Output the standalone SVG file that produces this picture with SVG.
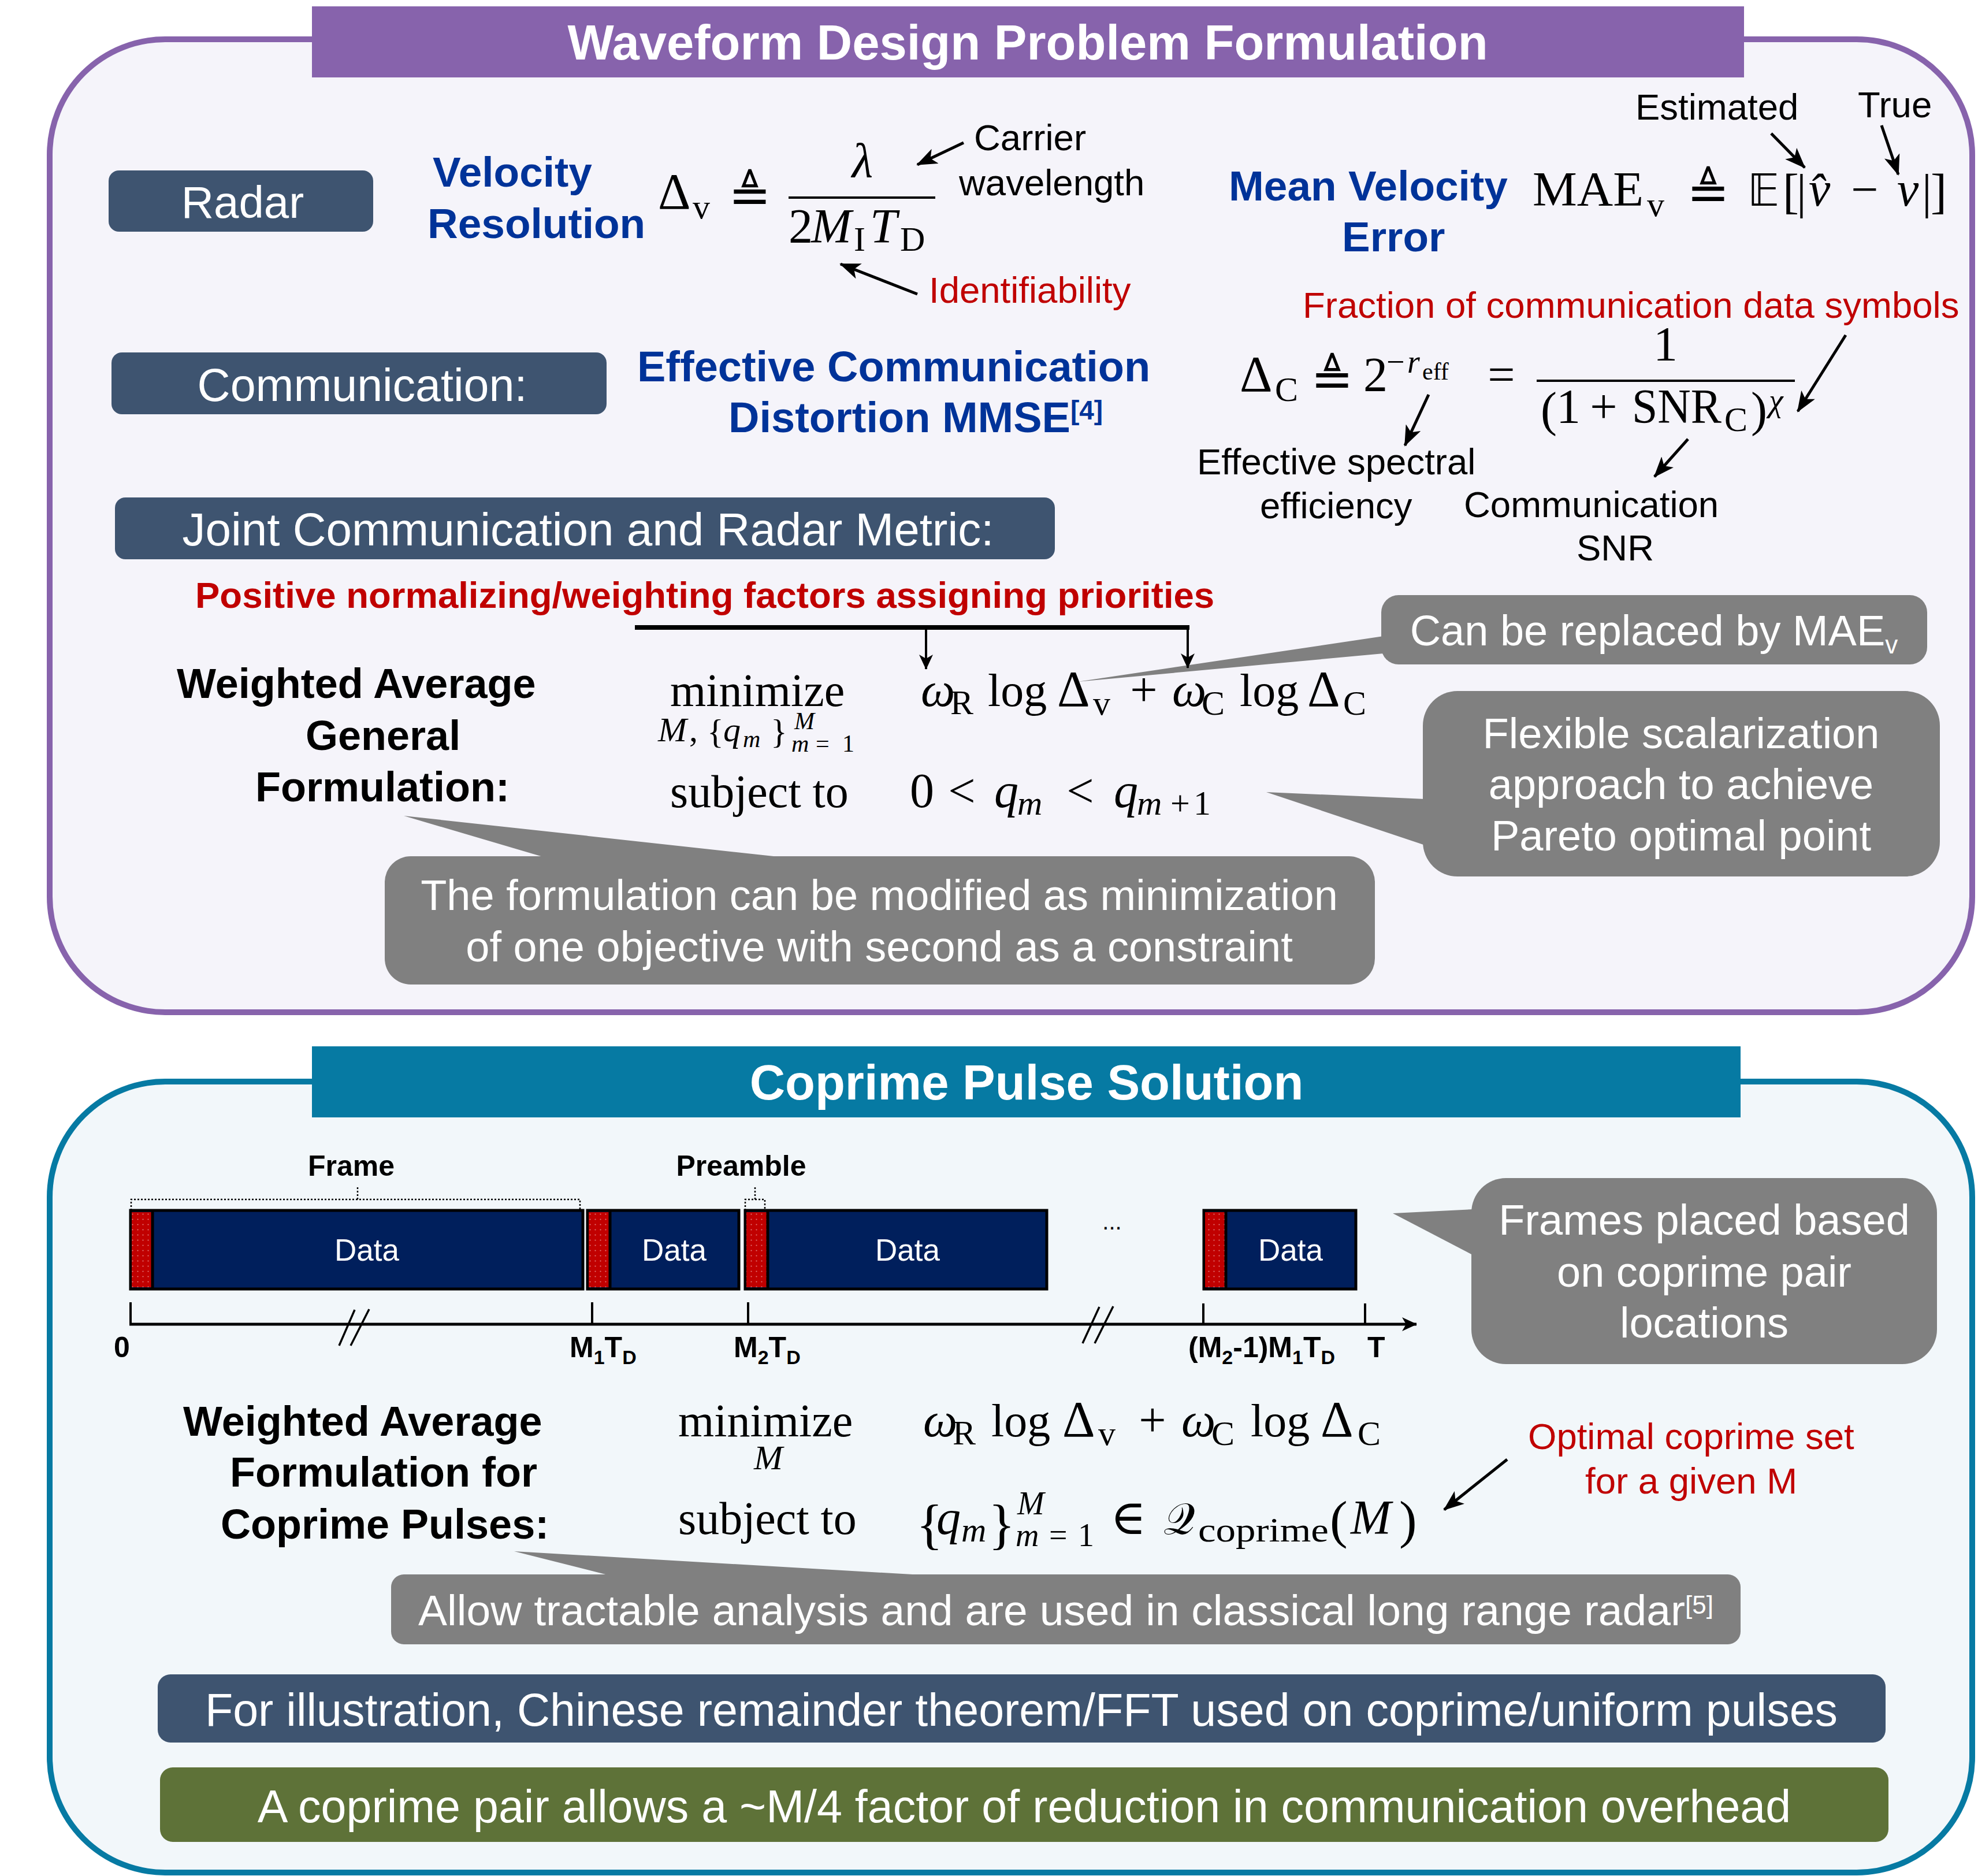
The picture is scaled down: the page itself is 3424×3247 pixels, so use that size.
<svg xmlns="http://www.w3.org/2000/svg" width="3424" height="3247" viewBox="0 0 3424 3247">
<defs>
<style>
.sans{font-family:"Liberation Sans",Arial,sans-serif}
.ttl{font-family:"Liberation Sans",Arial,sans-serif;font-weight:bold;font-size:85px;fill:#fff;text-anchor:middle}
.lbl{font-family:"Liberation Sans",Arial,sans-serif;font-size:79px;fill:#fff;text-anchor:middle}
.blue{font-family:"Liberation Sans",Arial,sans-serif;font-weight:bold;font-size:73px;fill:#003399}
.ann{font-family:"Liberation Sans",Arial,sans-serif;font-size:63.5px;fill:#000}
.red{fill:#C00000}
.co{font-family:"Liberation Sans",Arial,sans-serif;font-size:74px;fill:#fff;text-anchor:middle}
.wa{font-family:"Liberation Sans",Arial,sans-serif;font-weight:bold;font-size:72px;fill:#000}
.ax{font-family:"Liberation Sans",Arial,sans-serif;font-weight:bold;font-size:50px;fill:#000}
.dt{font-family:"Liberation Sans",Arial,sans-serif;font-size:53px;fill:#fff;text-anchor:middle}
.m{font-family:"Liberation Serif","DejaVu Serif",serif;font-size:84px;fill:#000}
.w{font-size:80px}
.i{font-style:italic}
.s{font-size:60px}
.s2{font-size:56px}
.ss{font-size:42px}
.D{font-size:88px}
.eq{font-family:"DejaVu Sans",sans-serif;font-size:88px}
.sym{font-family:"DejaVu Sans","DejaVu Serif",sans-serif;font-size:76px}
.slate{fill:#3E5470}
.gray{fill:#808080}
.arr{stroke:#000;stroke-width:5;fill:none;marker-end:url(#ah)}
.dot{stroke:#000;stroke-width:2.5;fill:none;stroke-dasharray:3 3}
.blk{stroke:#000;stroke-width:5}
</style>
<marker id="ah" markerUnits="userSpaceOnUse" markerWidth="36" markerHeight="28" viewBox="0 0 36 28" refX="34" refY="14" orient="auto"><path d="M0,0 L36,14 L0,28 L9,14 z" fill="#000"/></marker>
<marker id="ahs" markerUnits="userSpaceOnUse" markerWidth="26" markerHeight="24" viewBox="0 0 26 24" refX="25" refY="12" orient="auto"><path d="M0,0 L26,12 L0,24 L7,12 z" fill="#000"/></marker>
<pattern id="pre" patternUnits="userSpaceOnUse" width="9" height="9"><rect width="9" height="9" fill="#C00000"/><circle cx="4.5" cy="4.5" r="1.1" fill="#E27A7A"/></pattern>
</defs>

<g id="panel-top">
<rect x="86" y="68" width="3328" height="1684" rx="200" fill="#F5F4FA" stroke="#8763AC" stroke-width="10"/>
<rect x="540" y="11" width="2479" height="123" fill="#8763AC"/>
<text class="ttl" x="1779" y="103">Waveform Design Problem Formulation</text>
</g>

<g id="panel-bottom">
<rect x="86" y="1872" width="3328" height="1369" rx="200" fill="#F2F7FA" stroke="#067AA3" stroke-width="10"/>
<rect x="540" y="1811" width="2473" height="123" fill="#067AA3"/>
<text class="ttl" x="1777" y="1903">Coprime Pulse Solution</text>
</g>

<g id="radar-box">
<rect class="slate" x="188" y="295" width="458" height="106" rx="18"/>
<text class="lbl" x="420" y="377" style="font-size:78px">Radar</text>
</g>
<g id="comm-box">
<rect class="slate" x="193" y="610" width="857" height="107" rx="18"/>
<text class="lbl" x="627" y="694">Communication:</text>
</g>
<g id="joint-box">
<rect class="slate" x="199" y="861" width="1627" height="107" rx="18"/>
<text class="lbl" x="1018" y="944" style="font-size:80px">Joint Communication and Radar Metric:</text>
</g>

<g id="velocity-label">
<text class="blue" x="749" y="323">Velocity</text>
<text class="blue" x="740" y="412">Resolution</text>
</g>
<g id="velocity-formula">
<text class="m"><tspan class="D" x="1139" y="361">Δ</tspan><tspan class="s" x="1199" y="378">v</tspan><tspan class="eq" x="1298" y="368" text-anchor="middle">≜</tspan><tspan class="i" x="1493" y="306" text-anchor="middle">λ</tspan><tspan x="1365" y="420">2</tspan><tspan class="i" x="1404" y="420">M</tspan><tspan class="s" x="1478" y="434">I</tspan><tspan class="i" x="1506" y="420">T</tspan><tspan class="s" x="1558" y="434">D</tspan></text>
<line x1="1365" y1="342" x2="1619" y2="342" stroke="#000" stroke-width="4"/>
</g>
<g id="carrier-label">
<text class="ann" x="1686" y="260">Carrier</text>
<text class="ann" x="1660" y="338">wavelength</text>
</g>
<g id="ident-label"><text class="ann red" x="1608" y="524">Identifiability</text></g>

<g id="mae-label">
<text class="blue" x="2127" y="347">Mean Velocity</text>
<text class="blue" x="2323" y="435">Error</text>
</g>
<g id="mae-formula">
<text class="m"><tspan x="2653" y="356" textLength="192" lengthAdjust="spacingAndGlyphs">MAE</tspan><tspan class="s" x="2851" y="374">v</tspan><tspan class="eq" x="2957" y="363" text-anchor="middle">≜</tspan><tspan class="sym" x="3025" y="356">𝔼</tspan><tspan x="3086" y="360">[</tspan><tspan x="3110" y="360">|</tspan><tspan class="i" x="3131" y="356">v̂</tspan><tspan x="3228" y="356" text-anchor="middle">−</tspan><tspan class="i" x="3284" y="356">v</tspan><tspan x="3327" y="360">|</tspan><tspan x="3342" y="360">]</tspan></text>
</g>
<g id="est-label"><text class="ann" x="2831" y="207">Estimated</text></g>
<g id="true-label"><text class="ann" x="3216" y="203">True</text></g>

<g id="comm-label">
<text class="blue" x="1103" y="660" style="font-size:74px">Effective Communication</text>
<text class="blue" x="1261" y="748" style="font-size:74px">Distortion MMSE<tspan style="font-size:46px" dy="-22">[4]</tspan></text>
</g>
<g id="frac-label"><text class="ann red" x="2255" y="550">Fraction of communication data symbols</text></g>
<g id="dc-formula">
<text class="m"><tspan class="D" x="2146" y="677">Δ</tspan><tspan class="s" x="2207" y="694">C</tspan><tspan class="eq" x="2306" y="686" text-anchor="middle">≜</tspan><tspan x="2360" y="677">2</tspan><tspan class="s2" x="2400" y="645">−</tspan><tspan class="s2 i" x="2436" y="645">r</tspan><tspan class="ss" x="2462" y="657">eff</tspan><tspan x="2599" y="677" text-anchor="middle">=</tspan><tspan x="2883" y="624" text-anchor="middle">1</tspan><tspan x="2667" y="737">(</tspan><tspan x="2694" y="732">1</tspan><tspan x="2776" y="732" text-anchor="middle">+</tspan><tspan x="2825" y="732" textLength="155" lengthAdjust="spacingAndGlyphs">SNR</tspan><tspan class="s" x="2985" y="746">C</tspan><tspan x="3031" y="737">)</tspan><tspan class="s2 i" x="3062" y="712">χ</tspan></text>
<line x1="2660" y1="659" x2="3107" y2="659" stroke="#000" stroke-width="4"/>
</g>
<g id="eff-label">
<text class="ann" x="2072" y="821">Effective spectral</text>
<text class="ann" x="2181" y="897">efficiency</text>
</g>
<g id="snr-label">
<text class="ann" x="2534" y="895">Communication</text>
<text class="ann" x="2729" y="970">SNR</text>
</g>

<g id="weights-label"><text class="ann red" x="338" y="1052" style="font-weight:bold">Positive normalizing/weighting factors assigning priorities</text></g>

<g id="wa-general">
<text class="wa" x="306" y="1208">Weighted Average</text>
<text class="wa" x="529" y="1298">General</text>
<text class="wa" x="442" y="1387">Formulation:</text>
</g>
<g id="general-problem">
<text class="m"><tspan class="w" x="1160" y="1222">minimize</tspan><tspan class="s i" x="1139" y="1283">M</tspan><tspan class="s" x="1193" y="1283">,</tspan><tspan class="s" x="1224" y="1286">{</tspan><tspan class="s i" x="1252" y="1283">q</tspan><tspan class="ss i" x="1286" y="1293">m</tspan><tspan class="s" x="1334" y="1286">}</tspan><tspan class="ss i" x="1375" y="1262">M</tspan><tspan class="ss i" x="1370" y="1301">m</tspan><tspan class="ss" x="1412" y="1301">=</tspan><tspan class="ss" x="1458" y="1301">1</tspan></text>
<text class="m"><tspan class="i" x="1594" y="1222">ω</tspan><tspan class="s" x="1645" y="1236">R</tspan><tspan class="w" x="1710" y="1222">log</tspan><tspan class="D" x="1830" y="1222">Δ</tspan><tspan class="s" x="1892" y="1237">v</tspan><tspan x="1980" y="1222" text-anchor="middle">+</tspan><tspan class="i" x="2029" y="1222">ω</tspan><tspan class="s" x="2080" y="1237">C</tspan><tspan class="w" x="2146" y="1222">log</tspan><tspan class="D" x="2263" y="1222">Δ</tspan><tspan class="s" x="2325" y="1237">C</tspan></text>
<text class="m"><tspan class="w" x="1160" y="1397">subject to</tspan><tspan x="1575" y="1397">0</tspan><tspan x="1665" y="1397" text-anchor="middle">&lt;</tspan><tspan class="i" x="1721" y="1397">q</tspan><tspan class="s i" x="1761" y="1410">m</tspan><tspan x="1870" y="1397" text-anchor="middle">&lt;</tspan><tspan class="i" x="1928" y="1397">q</tspan><tspan class="s i" x="1968" y="1410">m</tspan><tspan class="s" x="2026" y="1410">+</tspan><tspan class="s" x="2066" y="1410">1</tspan></text>
</g>

<g id="callout-mae">
<polygon class="gray" points="2395,1101 1865,1180 2395,1131"/>
<rect class="gray" x="2391" y="1030" width="945" height="120" rx="30"/>
<text class="co" x="2863" y="1117">Can be replaced by MAE<tspan style="font-size:44px" dy="14">v</tspan></text>
</g>
<g id="callout-pareto">
<polygon class="gray" points="2467,1383 2192,1371 2467,1463"/>
<rect class="gray" x="2463" y="1196" width="895" height="321" rx="60"/>
<text class="co" x="2910" y="1295">Flexible scalarization</text>
<text class="co" x="2910" y="1383">approach to achieve</text>
<text class="co" x="2910" y="1472">Pareto optimal point</text>
</g>
<g id="callout-constraint">
<polygon class="gray" points="699,1412 950,1486 1376,1486"/>
<rect class="gray" x="666" y="1482" width="1714" height="222" rx="45"/>
<text class="co" x="1522" y="1575">The formulation can be modified as minimization</text>
<text class="co" x="1522" y="1664">of one objective with second as a constraint</text>
</g>

<g id="frame-diagram">
<text class="ax" x="608" y="2035" text-anchor="middle">Frame</text>
<text class="ax" x="1283" y="2035" text-anchor="middle">Preamble</text>
<path class="dot" d="M227,2095 L227,2076 L1004,2076 L1004,2095 M619,2076 L619,2054"/>
<path class="dot" d="M1290,2095 L1290,2076 L1324,2076 L1324,2095 M1307,2076 L1307,2053"/>
<g id="block1">
<rect x="226" y="2095" width="783" height="136" fill="#001F5C" class="blk"/>
<rect x="228" y="2098" width="36" height="130" fill="url(#pre)"/>
<line class="blk" x1="264" y1="2095" x2="264" y2="2231"/>
<text class="dt" x="635" y="2182">Data</text>
</g>
<g id="block2">
<rect x="1017" y="2095" width="262" height="136" fill="#001F5C" class="blk"/>
<rect x="1019" y="2098" width="37" height="130" fill="url(#pre)"/>
<line class="blk" x1="1056" y1="2095" x2="1056" y2="2231"/>
<text class="dt" x="1167" y="2182">Data</text>
</g>
<g id="block3">
<rect x="1290" y="2095" width="522" height="136" fill="#001F5C" class="blk"/>
<rect x="1292" y="2098" width="37" height="130" fill="url(#pre)"/>
<line class="blk" x1="1329" y1="2095" x2="1329" y2="2231"/>
<text class="dt" x="1571" y="2182">Data</text>
</g>
<g id="block4">
<rect x="2084" y="2095" width="263" height="136" fill="#001F5C" class="blk"/>
<rect x="2086" y="2098" width="36" height="130" fill="url(#pre)"/>
<line class="blk" x1="2122" y1="2095" x2="2122" y2="2231"/>
<text class="dt" x="2234" y="2182">Data</text>
</g>
<text class="sans" x="1925" y="2128" text-anchor="middle" font-size="40">...</text>
<g id="axis">
<line x1="224" y1="2292" x2="2452" y2="2292" stroke="#000" stroke-width="5" marker-end="url(#ahs)"/>
<path d="M226,2254 L226,2292 M1025,2254 L1025,2292 M1295,2254 L1295,2292 M2083,2256 L2083,2292 M2363,2256 L2363,2292" stroke="#000" stroke-width="4"/>
<path d="M587,2329 L614,2267 M607,2329 L639,2266 M1874,2325 L1903,2262 M1895,2325 L1927,2261" stroke="#000" stroke-width="3.5"/>
<text class="ax" x="197" y="2349">0</text>
<text class="ax" x="986" y="2349">M<tspan font-size="34" dy="12">1</tspan><tspan dy="-12">T</tspan><tspan font-size="34" dy="12">D</tspan></text>
<text class="ax" x="1270" y="2349">M<tspan font-size="34" dy="12">2</tspan><tspan dy="-12">T</tspan><tspan font-size="34" dy="12">D</tspan></text>
<text class="ax" x="2057" y="2349">(M<tspan font-size="34" dy="12">2</tspan><tspan dy="-12">-1)M</tspan><tspan font-size="34" dy="12">1</tspan><tspan dy="-12">T</tspan><tspan font-size="34" dy="12">D</tspan></text>
<text class="ax" x="2367" y="2349">T</text>
</g>
</g>

<g id="callout-frames">
<polygon class="gray" points="2551,2093 2411,2100 2551,2173"/>
<rect class="gray" x="2547" y="2039" width="806" height="322" rx="60"/>
<text class="co" x="2950" y="2137">Frames placed based</text>
<text class="co" x="2950" y="2227">on coprime pair</text>
<text class="co" x="2950" y="2315">locations</text>
</g>

<g id="wa-coprime">
<text class="wa" x="317" y="2485">Weighted Average</text>
<text class="wa" x="398" y="2573">Formulation for</text>
<text class="wa" x="382" y="2663">Coprime Pulses:</text>
</g>
<g id="coprime-problem">
<text class="m"><tspan class="w" x="1174" y="2486">minimize</tspan><tspan class="s i" x="1330" y="2543" text-anchor="middle">M</tspan></text>
<text class="m"><tspan class="i" x="1598" y="2486">ω</tspan><tspan class="s" x="1649" y="2500">R</tspan><tspan class="w" x="1716" y="2486">log</tspan><tspan class="D" x="1839" y="2486">Δ</tspan><tspan class="s" x="1901" y="2501">v</tspan><tspan x="1995" y="2486" text-anchor="middle">+</tspan><tspan class="i" x="2045" y="2486">ω</tspan><tspan class="s" x="2097" y="2501">C</tspan><tspan class="w" x="2165" y="2486">log</tspan><tspan class="D" x="2286" y="2486">Δ</tspan><tspan class="s" x="2350" y="2501">C</tspan></text>
<text class="m"><tspan class="w" x="1174" y="2655">subject to</tspan><tspan x="1586" y="2670" font-size="96">{</tspan><tspan class="i" x="1621" y="2655">q</tspan><tspan class="s i" x="1664" y="2668">m</tspan><tspan x="1711" y="2670" font-size="96">}</tspan><tspan class="s2 i" x="1761" y="2621">M</tspan><tspan class="s2 i" x="1758" y="2676">m</tspan><tspan class="s2" x="1816" y="2676">=</tspan><tspan class="s2" x="1866" y="2676">1</tspan><tspan x="1953" y="2655" text-anchor="middle">∈</tspan><tspan class="sym" x="2014" y="2655">𝒬</tspan><tspan class="s" x="2074" y="2668" textLength="226" lengthAdjust="spacingAndGlyphs">coprime</tspan><tspan x="2302" y="2661" font-size="92">(</tspan><tspan class="i" x="2338" y="2655">M</tspan><tspan x="2422" y="2661" font-size="92">)</tspan></text>
</g>
<g id="optimal-label">
<text class="ann red" x="2645" y="2508">Optimal coprime set</text>
<text class="ann red" x="2744" y="2585">for a given M</text>
</g>

<g id="callout-tractable">
<polygon class="gray" points="890,2685 1064,2729 1648,2729"/>
<rect class="gray" x="677" y="2725" width="2336" height="121" rx="22"/>
<text class="co" x="1845" y="2813" style="font-size:75px">Allow tractable analysis and are used in classical long range radar<tspan style="font-size:44px" dy="-20">[5]</tspan></text>
</g>
<g id="crt-box">
<rect class="slate" x="273" y="2898" width="2991" height="118" rx="22"/>
<text class="lbl" x="1768" y="2987">For illustration, Chinese remainder theorem/FFT used on coprime/uniform pulses</text>
</g>
<g id="overhead-box">
<rect x="277" y="3059" width="2992" height="129" rx="22" fill="#5E7238"/>
<text class="lbl" x="1773" y="3154">A coprime pair allows a ~M/4 factor of reduction in communication overhead</text>
</g>

<g id="connectors">
<line class="arr" x1="1668" y1="247" x2="1588" y2="285"/>
<line class="arr" x1="1588" y1="509" x2="1455" y2="457"/>
<line class="arr" x1="3066" y1="231" x2="3124" y2="290"/>
<line class="arr" x1="3257" y1="217" x2="3286" y2="302"/>
<line class="arr" x1="2473" y1="683" x2="2432" y2="771"/>
<line class="arr" x1="2922" y1="760" x2="2864" y2="825"/>
<line class="arr" x1="3195" y1="580" x2="3112" y2="712"/>
<line class="arr" x1="2609" y1="2526" x2="2500" y2="2613"/>
<path d="M1099,1086 L2059,1086" stroke="#000" stroke-width="8" fill="none"/>
<line x1="1603" y1="1086" x2="1603" y2="1158" stroke="#000" stroke-width="4" marker-end="url(#ahs)"/>
<line x1="2056" y1="1086" x2="2056" y2="1156" stroke="#000" stroke-width="4" marker-end="url(#ahs)"/>
</g>
</svg>
